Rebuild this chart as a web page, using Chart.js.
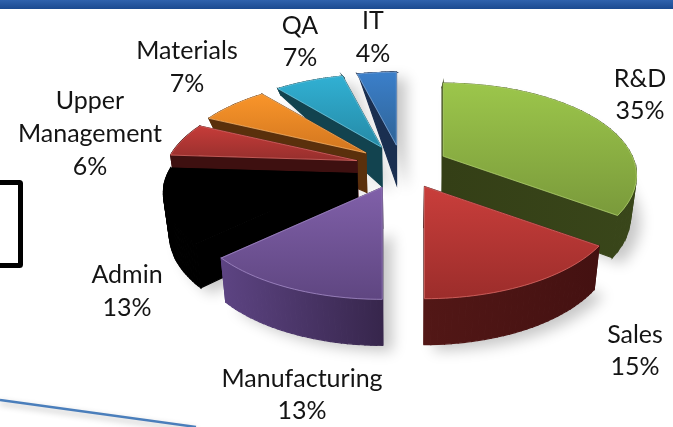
<!DOCTYPE html>
<html>
<head>
<meta charset="utf-8">
<style>
  html, body { margin: 0; padding: 0; background: #fff; overflow: hidden; }
  canvas { display: block; }
</style>
<script src="https://cdn.jsdelivr.net/npm/chart.js@4"></script>
</head>
<body>
<canvas id="myChart" width="673" height="427"></canvas>
<script>
const categories = ['R&D', 'Sales', 'Manufacturing', 'Admin', 'Upper Management', 'Materials', 'QA', 'IT'];
const percents = [35, 15, 13, 13, 6, 7, 7, 4];

const topLight = ['#9cc64b', '#c93e3b', '#8060a9', '#000000', '#c63c39', '#f9952a', '#31b0d3', '#3b7fca'];
const topDark = ['#7a9a3b', '#9c2d2b', '#5f4681', '#000000', '#962f2d', '#d2761f', '#258aa6', '#2f6497'];
const wallLeft = ['#343f16', '#521716', '#5d4483', '#000000', '#3e1010', '#5a300c', '#12434f', '#1a2f50'];
const wallRight = ['#39461a', '#441111', '#37264c', '#000000', '#3e1010', '#5a300c', '#12434f', '#1a2f50'];
const edgeColors = ['#b4d56f', '#dc6a66', '#a48cc8', '#000000', '#dc6a66', '#fbb467', '#72cde6', '#84b0e2'];

// painted back to front
const drawOrder = [7, 6, 5, 4, 3, 2, 0, 1];

// label anchors: centre x, then one y per text row
const labelSpots = [
    [640, 79, 111], [635, 335, 367], [302, 379, 411], [127, 275, 308],
    [90, 101, 134, 167], [187, 51, 84], [300, 26, 58], [373, 21, 54]
];

// how the flat pie is laid on the table
const view = { cx: 402, cy: 166, rx: 189, ry: 88.4, persp: 0.211, explode: 0.25 };
// wall height against screen y, the back of the pie hides its walls
const wallStops = [[72, 0], [92, 8], [120, 10], [143, 39], [300, 46]];

function project(x, y) {
    const s = 1 / (1 - view.persp * y);
    return { x: view.rx * x * s, y: view.ry * y * s };
}

function wallHeight(y) {
    for (let i = 1; i < wallStops.length; i++) {
        if (y <= wallStops[i][0]) {
            const a = wallStops[i - 1], b = wallStops[i];
            return a[1] + (b[1] - a[1]) * Math.max(0, y - a[0]) / (b[0] - a[0]);
        }
    }
    return wallStops[wallStops.length - 1][1];
}

function lowered(p) {
    return { x: view.cx + (p.x - view.cx) * 0.975, y: p.y + wallHeight(p.y) };
}

function sliceOrigin(arc) {
    const mid = (arc.startAngle + arc.endAngle) / 2;
    const shift = project(view.explode * Math.cos(mid), view.explode * Math.sin(mid));
    return { x: view.cx + shift.x, y: view.cy + shift.y };
}

// affine that puts one library arc onto its place in the tilted pie,
// a bit oversize because the true outline clips it afterwards
function sliceMatrix(arc) {
    const o = sliceOrigin(arc);
    const R = arc.outerRadius / 1.2;
    const v1 = { x: R * Math.cos(arc.startAngle), y: R * Math.sin(arc.startAngle) };
    const v2 = { x: R * Math.cos(arc.endAngle), y: R * Math.sin(arc.endAngle) };
    const w1 = project(Math.cos(arc.startAngle), Math.sin(arc.startAngle));
    const w2 = project(Math.cos(arc.endAngle), Math.sin(arc.endAngle));
    const det = v1.x * v2.y - v2.x * v1.y;
    const a = (w1.x * v2.y - w2.x * v1.y) / det;
    const c = (w2.x * v1.x - w1.x * v2.x) / det;
    const b = (w1.y * v2.y - w2.y * v1.y) / det;
    const d = (w2.y * v1.x - w1.y * v2.x) / det;
    return { a, b, c, d, e: o.x - a * arc.x - c * arc.y, f: o.y - b * arc.x - d * arc.y };
}

function outline(arc) {
    const o = sliceOrigin(arc);
    const pts = [o];
    for (let i = 0; i <= 32; i++) {
        const t = arc.startAngle + (arc.endAngle - arc.startAngle) * i / 32;
        const p = project(Math.cos(t), Math.sin(t));
        pts.push({ x: o.x + p.x, y: o.y + p.y });
    }
    return pts;
}

function tracePoly(ctx, pts) {
    ctx.beginPath();
    pts.forEach((p, i) => i ? ctx.lineTo(p.x, p.y) : ctx.moveTo(p.x, p.y));
    ctx.closePath();
}

function drawBody(ctx, pts, i) {
    const xs = pts.map(p => p.x);
    const g = ctx.createLinearGradient(Math.min(...xs), 0, Math.max(...xs), 0);
    g.addColorStop(0, wallLeft[i]);
    g.addColorStop(1, wallRight[i]);
    ctx.fillStyle = g;
    ctx.strokeStyle = g;
    ctx.lineWidth = 1.2;
    for (let k = 0; k < pts.length; k++) {
        const p = pts[k], q = pts[(k + 1) % pts.length];
        tracePoly(ctx, [p, q, lowered(q), lowered(p)]);
        ctx.fill();
        ctx.stroke();
    }
}

// gradient in arc space that reads as top to bottom on screen
function verticalGradient(ctx, m, pts, light, dark) {
    const ys = pts.map(p => p.y);
    const y0 = Math.min(...ys), y1 = Math.max(...ys);
    const n = m.b * m.b + m.d * m.d;
    const at = y => ({ x: m.b * (y - m.f) / n, y: m.d * (y - m.f) / n });
    const p0 = at(y0), p1 = at(y1);
    const g = ctx.createLinearGradient(p0.x, p0.y, p1.x, p1.y);
    g.addColorStop(0, light);
    g.addColorStop(1, dark);
    return g;
}

const tiltedPie = {
    id: 'tiltedPie',
    beforeDraw(chart) {
        const ctx = chart.ctx;
        ctx.save();
        ctx.fillStyle = '#fff';
        ctx.fillRect(0, 0, chart.width, chart.height);
        const bar = ctx.createLinearGradient(0, 0, 0, 9);
        bar.addColorStop(0, '#2f62ad');
        bar.addColorStop(1, '#1b4a90');
        ctx.fillStyle = bar;
        ctx.fillRect(0, 0, chart.width, 9);
        // box and rule left over from the slide
        ctx.strokeStyle = '#000';
        ctx.lineWidth = 5;
        ctx.beginPath();
        ctx.roundRect(-12, 182.5, 32.5, 83, 1);
        ctx.stroke();
        ctx.shadowColor = 'rgba(0,0,0,0.3)';
        ctx.shadowBlur = 6;
        ctx.shadowOffsetY = 3;
        ctx.strokeStyle = '#4a7ebb';
        ctx.lineWidth = 2.4;
        ctx.beginPath();
        ctx.moveTo(0, 400);
        ctx.lineTo(196, 427);
        ctx.stroke();
        ctx.restore();
    },
    beforeDatasetsDraw(chart) {
        const ctx = chart.ctx;
        const arcs = chart.getDatasetMeta(0).data;
        const parts = arcs.map(arc => ({ arc, m: sliceMatrix(arc), pts: outline(arc) }));

        // soft shadow of the whole pie on the slide
        ctx.save();
        ctx.shadowColor = 'rgba(0,0,0,0.22)';
        ctx.shadowBlur = 14;
        ctx.shadowOffsetX = 10;
        ctx.shadowOffsetY = 6;
        ctx.fillStyle = '#fff';
        parts.forEach(part => {
            tracePoly(ctx, part.pts.map(lowered));
            ctx.fill();
        });
        ctx.restore();

        drawOrder.forEach(i => {
            const { arc, m, pts } = parts[i];
            ctx.save();
            drawBody(ctx, pts, i);
            ctx.save();
            tracePoly(ctx, pts);
            ctx.clip();
            ctx.transform(m.a, m.b, m.c, m.d, m.e, m.f);
            arc.options = Object.assign({}, arc.options, {
                backgroundColor: verticalGradient(ctx, m, pts, topLight[i], topDark[i]),
                borderWidth: 0
            });
            arc.draw(ctx);
            ctx.restore();
            ctx.strokeStyle = edgeColors[i];
            ctx.lineWidth = 0.8;
            tracePoly(ctx, pts);
            ctx.stroke();
            ctx.restore();
        });
        return false;
    },
    afterDraw(chart) {
        const ctx = chart.ctx;
        ctx.save();
        ctx.fillStyle = '#141414';
        ctx.font = '25px Lato';
        ctx.textAlign = 'center';
        ctx.textBaseline = 'middle';
        categories.forEach((name, i) => {
            const spot = labelSpots[i];
            const rows = spot.length === 4 ? name.split(' ') : [name];
            rows.push(percents[i] + '%');
            rows.forEach((row, r) => ctx.fillText(row, spot[0], spot[r + 1]));
        });
        ctx.restore();
    }
};

new Chart(document.getElementById('myChart').getContext('2d'), {
    type: 'pie',
    data: {
        labels: categories,
        datasets: [{
            data: percents,
            backgroundColor: topLight,
            borderColor: edgeColors,
            borderWidth: 0
        }]
    },
    options: {
        responsive: false,
        animation: false,
        plugins: { legend: { display: false }, tooltip: { enabled: false } }
    },
    plugins: [tiltedPie]
});
</script>
</body>
</html>
